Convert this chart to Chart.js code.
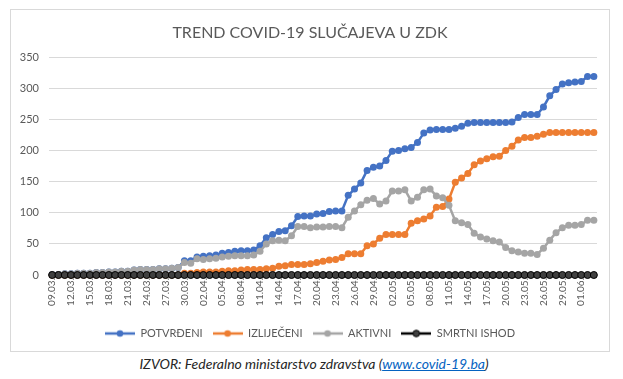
<!DOCTYPE html>
<html><head><meta charset="utf-8">
<script src="https://cdn.jsdelivr.net/npm/chart.js@4"></script>
<style>
html,body{margin:0;padding:0;background:#fff;}
#box{position:absolute;left:10px;top:9px;width:600px;height:343px;border:1px solid #d9d9d9;box-sizing:border-box;}
#c{display:block}
#src{position:absolute;left:0;width:628px;top:355px;text-align:center;font:italic 14px Lato, sans-serif;color:#262626}
#src a{color:#0563C1;text-decoration:underline}
</style></head>
<body>
<div id="box"><canvas id="c" width="598" height="341"></canvas></div>
<div id="src">IZVOR: Federalno ministarstvo zdravstva (<a>www.covid-19.ba</a>)</div>
<script>
const categories = [
 "09.03.","10.03.","11.03.","12.03.","13.03.","14.03.","15.03.","16.03.","17.03.","18.03.","19.03.","20.03.","21.03.","22.03.","23.03.","24.03.","25.03.","26.03.","27.03.","28.03.","29.03.","30.03.","31.03.",
 "01.04.","02.04.","03.04.","04.04.","05.04.","06.04.","07.04.","08.04.","09.04.","10.04.","11.04.","12.04.","13.04.","14.04.","15.04.","16.04.","17.04.","18.04.","19.04.","20.04.","21.04.","22.04.","23.04.","24.04.","25.04.","26.04.","27.04.","28.04.","29.04.","30.04.",
 "01.05.","02.05.","03.05.","04.05.","05.05.","06.05.","07.05.","08.05.","09.05.","10.05.","11.05.","12.05.","13.05.","14.05.","15.05.","16.05.","17.05.","18.05.","19.05.","20.05.","21.05.","22.05.","23.05.","24.05.","25.05.","26.05.","27.05.","28.05.","29.05.","30.05.","31.05.",
 "01.06.","02.06.","03.06."
];
const potvrdeni = [
 1,1,2,2,3,3,3,4,4,5,5,6,6,8,9,9,9,10,10,11,12,
 23,23,29,30,31,32,35,36,38,39,
 39,40,47,60,65,70,71,79,94,95,
 95,98,99,102,103,103,128,138,148,168,
 173,175,184,199,200,203,205,213,228,233,
 234,234,234,236,239,244,245,245,245,245,
 245,245,246,253,258,258,258,270,288,298,
 307,309,310,311,319,319
];
const izlijeceni = [
 0,0,0,0,0,0,0,0,0,0,0,0,0,0,0,0,0,0,0,0,0,
 3,3,4,5,5,5,6,7,7,8,
 9,9,9,10,11,14,15,17,17,17,
 18,20,22,24,25,28,34,34,34,47,
 50,59,65,65,65,65,83,87,90,95,
 109,110,122,149,156,163,177,183,187,190,
 191,200,207,217,221,221,223,226,229,229,
 229,229,229,229,229,229
];
const aktivni = [
 1,1,2,2,3,3,3,4,4,5,5,6,6,8,9,9,9,10,10,11,12,
 20,19,26,25,26,27,29,30,31,31,
 31,32,38,50,55,56,55,63,78,78,
 76,77,77,78,78,76,93,103,113,120,
 123,114,119,135,135,137,119,125,137,138,
 127,124,112,87,84,81,67,61,58,55,
 53,44,39,37,35,35,33,43,56,68,
 76,80,80,81,88,88
];
const smrtniIshod = [
 0,0,0,0,0,0,0,0,0,0,0,0,0,0,0,0,0,0,0,0,0,
 0,0,0,0,0,0,0,0,0,0,
 0,0,0,0,0,0,0,0,0,0,
 0,0,0,0,0,0,0,0,0,0,
 0,0,0,0,0,0,0,0,0,0,
 0,0,0,0,0,0,0,0,0,0,
 0,0,0,0,0,0,0,0,0,0,
 0,0,0,0,0,0
];
const seriesNames = ["POTVRĐENI","IZLIJEČENI","AKTIVNI","SMRTNI ISHOD"];
const yTicks = [0,50,100,150,200,250,300,350];

const lineColors = ["#4472C4","#ED7D31","#A5A5A5","#000000"];
const pointFills = ["#4472C4","#ED7D31","#A5A5A5","#404040"];

function legendIcon(line, fill){
  const cv = document.createElement('canvas');
  cv.width = 30; cv.height = 10;
  const g = cv.getContext('2d');
  g.strokeStyle = line; g.lineWidth = 2.5;
  g.beginPath(); g.moveTo(0,5); g.lineTo(30,5); g.stroke();
  g.fillStyle = fill; g.beginPath(); g.arc(15,5,3.3,0,Math.PI*2); g.fill();
  if (line === "#000000") { g.lineWidth = 1; g.strokeStyle = "#000"; g.stroke(); }
  return cv;
}
const icons = lineColors.map((c,i)=>legendIcon(c, pointFills[i]));

function ds(label, data, i, order){
  return {
    label, data, order,
    clip: false,
    borderColor: lineColors[i],
    backgroundColor: pointFills[i],
    pointBackgroundColor: pointFills[i],
    pointBorderColor: lineColors[i],
    pointBorderWidth: i===3 ? 1 : 0,
    borderWidth: 2.5,
    pointRadius: 3.5,
    pointHoverRadius: 3.5,
    tension: 0,
    fill: false
  };
}

const grey = "#595959";
new Chart(document.getElementById('c'), {
  type: 'line',
  data: {
    labels: categories,
    datasets: [
      ds(seriesNames[0], potvrdeni, 0, 4),
      ds(seriesNames[1], izlijeceni, 1, 3),
      ds(seriesNames[2], aktivni, 2, 2),
      ds(seriesNames[3], smrtniIshod, 3, 1)
    ]
  },
  options: {
    responsive: false,
    animation: false,
    layout: { padding: { left: 0, right: 0, top: 0, bottom: 2 } },
    plugins: {
      title: {
        display: true,
        text: "TREND COVID-19 SLUČAJEVA U ZDK",
        color: grey,
        font: { family: "Lato", size: 16, weight: "normal" },
        padding: { top: 13, bottom: 15 }
      },
      legend: {
        position: 'bottom',
        labels: {
          color: grey,
          font: { family: "Lato", size: 11 },
          usePointStyle: true,
          pointStyleWidth: 30,
          boxHeight: 10,
          padding: 10,
          sort(a,b){ return a.datasetIndex - b.datasetIndex; },
          generateLabels(chart){
            const items = Chart.defaults.plugins.legend.labels.generateLabels(chart);
            items.forEach(it=>{ it.pointStyle = icons[it.datasetIndex]; });
            return items;
          }
        }
      },
      tooltip: { enabled: false }
    },
    scales: {
      x: {
        offset: true,
        grid: { display: false, drawTicks: false },
        border: { display: false },
        ticks: {
          autoSkip: false, minRotation: 90, maxRotation: 90, padding: 3,
          color: grey, font: { family: "Lato", size: 10 },
          callback(v, idx){ return idx % 3 === 0 ? categories[idx] : null; }
        },
        afterFit(s){ s.height = 43; }
      },
      y: {
        min: 0, max: 350,
        afterBuildTicks(s){ s.ticks = yTicks.map(v=>({value:v})); },
        grid: { color: "#d9d9d9", drawTicks: false, lineWidth: 1 },
        border: { display: false },
        ticks: { padding: 10, color: grey, font: { family: "Lato", size: 11 } },
        afterFit(s){ s.width = 38; }
      },
      yRight: {
        position: 'right',
        min: 0, max: 350,
        grid: { display: false, drawTicks: false },
        border: { display: false },
        ticks: { display: false },
        afterFit(s){ s.width = 12; }
      }
    }
  }
});
</script>
</body></html>
